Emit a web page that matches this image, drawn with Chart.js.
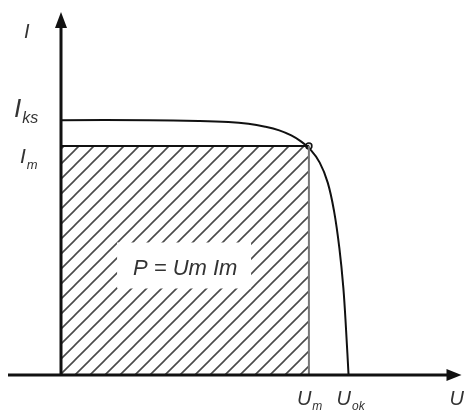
<!DOCTYPE html>
<html>
<head>
<meta charset="utf-8">
<script src="https://cdn.jsdelivr.net/npm/chart.js@4"></script>
<style>
  body { margin: 0; background: #fff; }
  #wrap { width: 467px; height: 415px; }
</style>
</head>
<body>
<div id="wrap"><canvas id="chart" width="467" height="415"></canvas></div>
<script>
// I-U charakteristika článku (relativní jednotky)
const curveU = [0, 0.22, 0.344, 0.418, 0.468, 0.51, 0.545, 0.575, 0.60, 0.622, 0.646, 0.666, 0.682, 0.695, 0.705, 0.712, 0.718];
const curveI = [0.702, 0.702, 0.700, 0.697, 0.692, 0.684, 0.674, 0.660, 0.643, 0.622, 0.585, 0.530, 0.450, 0.350, 0.240, 0.120, 0];

// body pracovního bodu
const Um = 0.619;
const Im = 0.631;
const Uok = 0.718;
const Iks = 0.702;

// popisky
const yLabels = [["I", "", 1.0], ["I", "ks", Iks], ["I", "m", Im]];
const xLabels = [["U", "m", Um], ["U", "ok", Uok], ["U", "", 1.0]];
const powerText = "P = Um Im";

// šrafování
function hatchPattern() {
  const s = 15;
  const c = document.createElement("canvas");
  c.width = s;
  c.height = s;
  const g = c.getContext("2d");
  g.strokeStyle = "#4a4a4a";
  g.lineWidth = 1.6;
  g.beginPath();
  g.moveTo(-2, s + 2);
  g.lineTo(s + 2, -2);
  g.moveTo(-2, 2);
  g.lineTo(2, -2);
  g.moveTo(s - 2, s + 2);
  g.lineTo(s + 2, s - 2);
  g.stroke();
  return g.createPattern(c, "repeat");
}

const curve = curveU.map((u, i) => ({ x: u, y: curveI[i] }));

const axesPlugin = {
  id: "axesPlugin",
  afterDatasetsDraw(chart) {
    const ctx = chart.ctx;
    const xs = chart.scales.x;
    const ys = chart.scales.y;
    const x0 = xs.getPixelForValue(0);
    const y0 = ys.getPixelForValue(0);

    // bílé pole pro popisek výkonu
    ctx.save();
    ctx.fillStyle = "#fff";
    ctx.fillRect(xs.getPixelForValue(0.14), ys.getPixelForValue(0.365), 134, 46);
    ctx.fillStyle = "#333";
    ctx.font = "italic 22px 'Liberation Sans', Arial, sans-serif";
    ctx.textAlign = "center";
    ctx.textBaseline = "alphabetic";
    ctx.fillText(powerText, xs.getPixelForValue(0.31), ys.getPixelForValue(0.275));

    // osy
    ctx.strokeStyle = "#111";
    ctx.fillStyle = "#111";
    ctx.lineWidth = 3;
    ctx.beginPath();
    ctx.moveTo(8, y0);
    ctx.lineTo(xs.getPixelForValue(1.0) - 10, y0);
    ctx.moveTo(x0, y0 + 1);
    ctx.lineTo(x0, ys.getPixelForValue(1.0) + 12);
    ctx.stroke();
    // šipky
    const xt = xs.getPixelForValue(1.0);
    ctx.beginPath();
    ctx.moveTo(xt, y0);
    ctx.lineTo(xt - 15, y0 - 6);
    ctx.lineTo(xt - 15, y0 + 6);
    ctx.closePath();
    ctx.fill();
    const yt = ys.getPixelForValue(1.0);
    ctx.beginPath();
    ctx.moveTo(x0, yt);
    ctx.lineTo(x0 - 6, yt + 16);
    ctx.lineTo(x0 + 6, yt + 16);
    ctx.closePath();
    ctx.fill();

    // popisky os
    ctx.fillStyle = "#333";
    ctx.textAlign = "left";
    const yOff = [[24, 38, 20], [14, 117, 26], [20, 163, 21]];
    yLabels.forEach((l, i) => {
      const [bx, by, sz] = yOff[i];
      ctx.font = "italic " + sz + "px 'Liberation Sans', Arial, sans-serif";
      ctx.fillText(l[0], bx, by);
      const w = ctx.measureText(l[0]).width;
      if (l[1]) {
        ctx.font = "italic " + Math.round(sz * 0.62) + "px 'Liberation Sans', Arial, sans-serif";
        ctx.fillText(l[1], bx + w + 1, by + 6);
      }
    });
    xLabels.forEach((l) => {
      const bx = xs.getPixelForValue(l[2]) - 12;
      const by = 405;
      ctx.font = "italic 20px 'Liberation Sans', Arial, sans-serif";
      ctx.fillText(l[0], bx, by);
      const w = ctx.measureText(l[0]).width;
      if (l[1]) {
        ctx.font = "italic 12px 'Liberation Sans', Arial, sans-serif";
        ctx.fillText(l[1], bx + w + 1, by + 5);
      }
    });
    ctx.restore();
  },
};

new Chart(document.getElementById("chart").getContext("2d"), {
  type: "scatter",
  data: {
    datasets: [
      {
        data: [{ x: 0, y: Im }, { x: Um, y: Im }, { x: Um, y: 0 }],
        showLine: true,
        fill: "origin",
        backgroundColor: hatchPattern(),
        borderWidth: 2,
        borderColor: "#111",
        segment: {
          borderColor: (c) => (c.p0DataIndex === 1 ? "#777" : "#111"),
        },
        pointRadius: 0,
      },
      {
        data: curve,
        showLine: true,
        fill: false,
        borderColor: "#111",
        borderWidth: 2,
        tension: 0.4,
        pointRadius: 0,
      },
      {
        data: [{ x: Um, y: Im }],
        pointRadius: 3,
        pointBackgroundColor: "#ddd",
        pointBorderColor: "#111",
        pointBorderWidth: 1.5,
      },
    ],
  },
  options: {
    responsive: false,
    animation: false,
    layout: { padding: { left: 61, right: 1, top: 12, bottom: 40 } },
    plugins: { legend: { display: false }, tooltip: { enabled: false } },
    scales: {
      x: { type: "linear", display: false, min: 0, max: 1.0 },
      y: { type: "linear", display: false, min: 0, max: 1.0 },
    },
  },
  plugins: [axesPlugin],
});
</script>
</body>
</html>
